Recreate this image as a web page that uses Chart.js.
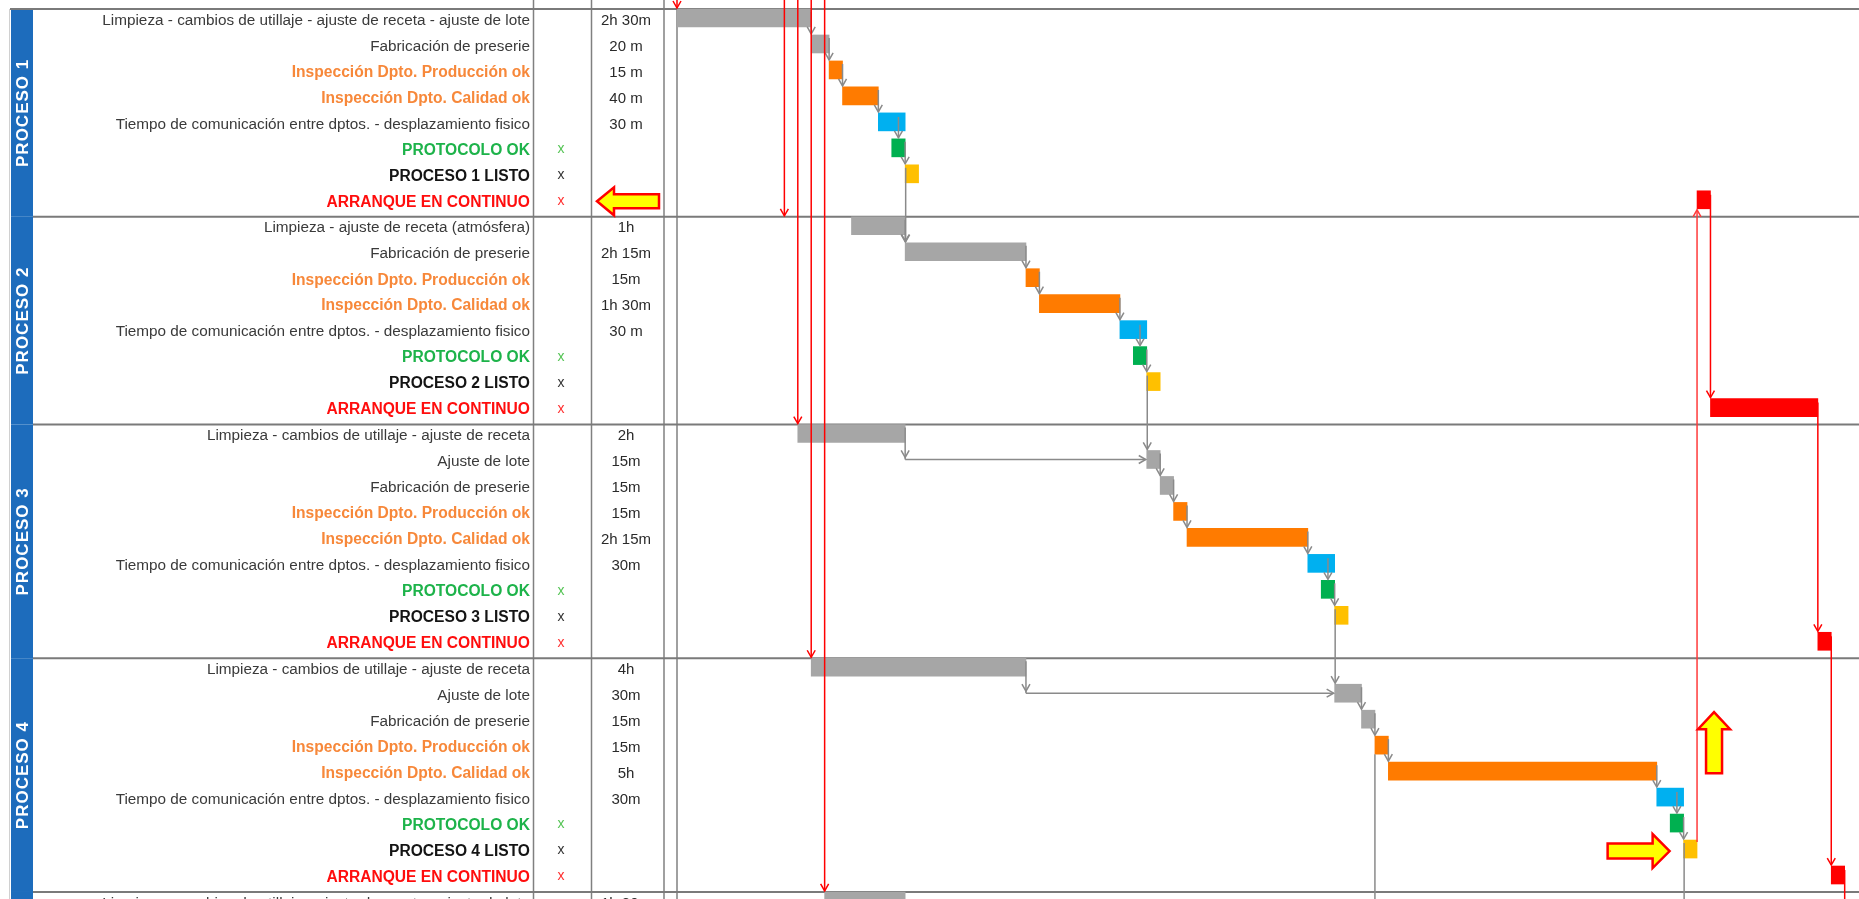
<!DOCTYPE html>
<html lang="es">
<head>
<meta charset="utf-8">
<title>Procesos - arranque en continuo</title>
<script src="https://cdn.jsdelivr.net/npm/chart.js@4.4.1/dist/chart.umd.min.js"></script>
<style>
  html, body { margin: 0; padding: 0; background: #fff; overflow: hidden; }
  #grafico { display: block; }
</style>
</head>
<body>
<canvas id="grafico" width="1859" height="899"></canvas>
<script>
// Procesos y cuántas filas ocupa cada uno
const procesos = ['PROCESO 1', 'PROCESO 2', 'PROCESO 3', 'PROCESO 4', 'PROCESO 5'];
const filasPorProceso = [8, 8, 9, 9, 1];

// Tareas (una por fila)
const tareas = [
  'Limpieza - cambios de utillaje - ajuste de receta - ajuste de lote',
  'Fabricación de preserie',
  'Inspección Dpto. Producción ok',
  'Inspección Dpto. Calidad ok',
  'Tiempo de comunicación entre dptos. - desplazamiento fisico',
  'PROTOCOLO OK',
  'PROCESO 1 LISTO',
  'ARRANQUE EN CONTINUO',
  'Limpieza - ajuste de receta (atmósfera)',
  'Fabricación de preserie',
  'Inspección Dpto. Producción ok',
  'Inspección Dpto. Calidad ok',
  'Tiempo de comunicación entre dptos. - desplazamiento fisico',
  'PROTOCOLO OK',
  'PROCESO 2 LISTO',
  'ARRANQUE EN CONTINUO',
  'Limpieza - cambios de utillaje - ajuste de receta',
  'Ajuste de lote',
  'Fabricación de preserie',
  'Inspección Dpto. Producción ok',
  'Inspección Dpto. Calidad ok',
  'Tiempo de comunicación entre dptos. - desplazamiento fisico',
  'PROTOCOLO OK',
  'PROCESO 3 LISTO',
  'ARRANQUE EN CONTINUO',
  'Limpieza - cambios de utillaje - ajuste de receta',
  'Ajuste de lote',
  'Fabricación de preserie',
  'Inspección Dpto. Producción ok',
  'Inspección Dpto. Calidad ok',
  'Tiempo de comunicación entre dptos. - desplazamiento fisico',
  'PROTOCOLO OK',
  'PROCESO 4 LISTO',
  'ARRANQUE EN CONTINUO',
  'Limpieza - cambios de utillaje - ajuste de receta - ajuste de lote'
];

// Tipo de tarea (define colores)
const tipos = [
  'gris', 'gris', 'naranja', 'naranja', 'azul', 'verde', 'amarillo', 'rojo',
  'gris', 'gris', 'naranja', 'naranja', 'azul', 'verde', 'amarillo', 'rojo',
  'gris', 'gris', 'gris', 'naranja', 'naranja', 'azul', 'verde', 'amarillo', 'rojo',
  'gris', 'gris', 'gris', 'naranja', 'naranja', 'azul', 'verde', 'amarillo', 'rojo',
  'gris'
];

// Columna de marcas
const marcas = [
  '', '', '', '', '', 'x', 'x', 'x',
  '', '', '', '', '', 'x', 'x', 'x',
  '', '', '', '', '', '', 'x', 'x', 'x',
  '', '', '', '', '', '', 'x', 'x', 'x',
  ''
];

// Columna de duraciones (texto)
const duraciones = [
  '2h 30m', '20 m', '15 m', '40 m', '30 m', '', '', '',
  '1h', '2h 15m', '15m', '1h 30m', '30 m', '', '', '',
  '2h', '15m', '15m', '15m', '2h 15m', '30m', '', '', '',
  '4h', '30m', '15m', '15m', '5h', '30m', '', '', '',
  '1h 30m'
];

// Inicio y duración de cada barra, en minutos
const inicio = [
  0, 150, 170, 185, 225, 240, 255, 1140,
  195, 255, 390, 405, 495, 510, 525, 1155,
  135, 525, 540, 555, 570, 705, 720, 735, 1275,
  150, 735, 765, 780, 795, 1095, 1110, 1125, 1290,
  165
];
const minutos = [
  150, 20, 15, 40, 30, 15, 15, 15,
  60, 135, 15, 90, 30, 15, 15, 120,
  120, 15, 15, 15, 135, 30, 15, 15, 15,
  240, 30, 15, 15, 300, 30, 15, 15, 15,
  90
];

// Llegada de cada proceso (flechas rojas desde arriba), en minutos
const llegadas = [0, 120, 135, 150, 165];

// Filas cuyo inicio sigue hacia abajo (fuera de la vista)
const continuaAbajo = [28];

const colores = {
  gris: '#a6a6a6',
  naranja: '#ff7b00',
  azul: '#00b0f0',
  verde: '#00b050',
  amarillo: '#ffc000',
  rojo: '#ff0000'
};
const coloresTexto = {
  gris: '#3a3a3a',
  azul: '#3a3a3a',
  naranja: '#f7883a',
  verde: '#1db34a',
  amarillo: '#141414',
  rojo: '#ff0d0d'
};
const coloresMarca = { verde: '#55c455', amarillo: '#333333', rojo: '#ff3030' };

const ALTO = 899;
const FILA = 25.97;       // alto de fila
const MARGEN_SUP = 9;     // línea superior de la tabla
const GROSOR = 18;        // grosor de barra
const yMin = -MARGEN_SUP / FILA;
const yMax = yMin + ALTO / FILA;

const FUENTE = '"Liberation Sans", Arial, sans-serif';

const datos = tareas.map((t, i) => ({
  x: [inicio[i], inicio[i] + minutos[i]],
  y: i + (GROSOR / 2) / FILA
}));

// primera fila de cada proceso
const inicioGrupo = [];
filasPorProceso.reduce((acc, n) => { inicioGrupo.push(acc); return acc + n; }, 0);

function linea(ctx, x0, y0, x1, y1) {
  ctx.beginPath();
  ctx.moveTo(x0, y0);
  ctx.lineTo(x1, y1);
  ctx.stroke();
}

function punta(ctx, x, y, dir) {
  ctx.beginPath();
  if (dir === 'abajo') { ctx.moveTo(x - 4, y - 7); ctx.lineTo(x, y); ctx.lineTo(x + 4, y - 7); }
  if (dir === 'arriba') { ctx.moveTo(x - 4, y + 7); ctx.lineTo(x, y); ctx.lineTo(x + 4, y + 7); }
  if (dir === 'derecha') { ctx.moveTo(x - 7, y - 4); ctx.lineTo(x, y); ctx.lineTo(x - 7, y + 4); }
  ctx.stroke();
}

function flechaBloque(ctx, puntos) {
  ctx.beginPath();
  puntos.forEach(([px, py], k) => k ? ctx.lineTo(px, py) : ctx.moveTo(px, py));
  ctx.closePath();
  ctx.fillStyle = '#ffff00';
  ctx.fill();
  ctx.strokeStyle = '#ff0000';
  ctx.lineWidth = 2.5;
  ctx.lineJoin = 'miter';
  ctx.stroke();
}

// Tabla de la izquierda, bandas y líneas de separación
const tabla = {
  id: 'tabla',
  beforeDatasetsDraw(chart) {
    const ctx = chart.ctx;
    const sy = chart.scales.y;
    const topFila = r => sy.getPixelForValue(r);
    ctx.save();

    // bandas azules con el nombre del proceso
    procesos.forEach((nombre, g) => {
      const y0 = topFila(inicioGrupo[g]);
      const y1 = topFila(inicioGrupo[g] + filasPorProceso[g]);
      ctx.fillStyle = '#1d6cbc';
      ctx.fillRect(11, y0, 22, y1 - y0);
      if (y1 <= ALTO) {
        ctx.save();
        ctx.translate(23, (y0 + y1) / 2);
        ctx.rotate(-Math.PI / 2);
        ctx.fillStyle = '#ffffff';
        ctx.font = 'bold 17px ' + FUENTE;
        ctx.letterSpacing = '1px';
        ctx.textAlign = 'center';
        ctx.textBaseline = 'middle';
        ctx.fillText(nombre, 0, 0);
        ctx.restore();
      }
    });
    ctx.strokeStyle = '#d0d0d0';
    ctx.lineWidth = 1;
    linea(ctx, 9.5, MARGEN_SUP, 9.5, ALTO);

    // columnas
    ctx.strokeStyle = '#808080';
    ctx.lineWidth = 1.5;
    [533.5, 591.5, 664].forEach(x => linea(ctx, x, 0, x, ALTO));
    linea(ctx, chart.chartArea.left, MARGEN_SUP, chart.chartArea.left, ALTO);

    // separación entre procesos
    ctx.strokeStyle = '#7a7a7a';
    ctx.lineWidth = 2;
    inicioGrupo.forEach((r, g) => {
      const y = topFila(r);
      linea(ctx, g === 0 ? 10 : 33, y, chart.width, y);
    });

    // textos de cada fila
    ctx.textBaseline = 'middle';
    tareas.forEach((t, i) => {
      const y = topFila(i) + 11.5;
      const tipo = tipos[i];
      const negrita = tipo !== 'gris' && tipo !== 'azul';
      ctx.font = (negrita ? 'bold 15.6px ' : '15.3px ') + FUENTE;
      ctx.fillStyle = coloresTexto[tipo];
      ctx.textAlign = 'right';
      ctx.fillText(t, 530, y);
      if (marcas[i]) {
        ctx.font = '14px ' + FUENTE;
        ctx.fillStyle = coloresMarca[tipo];
        ctx.textAlign = 'center';
        ctx.fillText(marcas[i], 561, y - 1);
      }
      if (duraciones[i]) {
        ctx.font = '15px ' + FUENTE;
        ctx.fillStyle = '#2a2a2a';
        ctx.textAlign = 'center';
        ctx.fillText(duraciones[i], 626, y);
      }
    });
    ctx.restore();
  },

  // Flechas de dependencia y anotaciones
  afterDatasetsDraw(chart) {
    const ctx = chart.ctx;
    const sx = chart.scales.x, sy = chart.scales.y;
    const X = t => sx.getPixelForValue(t);
    const topFila = r => sy.getPixelForValue(r);
    const fin = i => inicio[i] + minutos[i];
    ctx.save();
    ctx.lineCap = 'butt';

    // dependencias grises dentro de cada proceso
    ctx.strokeStyle = '#8a8a8a';
    ctx.lineWidth = 1.5;
    procesos.forEach((p, g) => {
      const s = inicioGrupo[g], n = filasPorProceso[g];
      for (let a = s; a < s + n - 1; a++) {
        const b = a + 1;
        if (tipos[a] === 'rojo' || tipos[b] === 'rojo') continue;
        if (tipos[b] === 'verde') {
          const x = X(inicio[b] + minutos[b] / 2);
          linea(ctx, x, topFila(a) + 4, x, topFila(b) - 1);
          punta(ctx, x, topFila(b) - 1, 'abajo');
        } else if (inicio[b] === fin(a)) {
          const x = X(fin(a));
          linea(ctx, x, topFila(a) + 3, x, topFila(b) - 1);
          punta(ctx, x, topFila(b) - 1, 'abajo');
        } else {
          const x0 = X(fin(a)), x1 = X(inicio[b]);
          const yc = topFila(b) + GROSOR / 2;
          linea(ctx, x0, topFila(a) + 3, x0, yc);
          punta(ctx, x0, yc - 2, 'abajo');
          linea(ctx, x0, yc, x1 - 1, yc);
          punta(ctx, x1 - 1, yc, 'derecha');
        }
      }
      // de "PROCESO n LISTO" al siguiente proceso
      const listo = s + n - 2;
      if (tipos[listo] !== 'amarillo') return;
      const x = X(inicio[listo]) + 0.5;
      const destino = inicioGrupo[g + 1] + 1;
      if (g + 1 < procesos.length && filasPorProceso[g + 1] > 1) {
        linea(ctx, x, topFila(listo) + 3, x, topFila(destino) - 1);
        punta(ctx, x, topFila(destino) - 1, 'abajo');
      } else {
        linea(ctx, x, topFila(listo) + 3, x, ALTO);
      }
    });
    continuaAbajo.forEach(i => {
      const x = X(inicio[i]);
      linea(ctx, x, topFila(i) + GROSOR, x, ALTO);
    });

    // llegadas de cada proceso
    ctx.strokeStyle = '#ff0000';
    ctx.lineWidth = 1.5;
    llegadas.forEach((t, g) => {
      const x = X(t);
      const y = topFila(inicioGrupo[g]) - 1;
      linea(ctx, x, 0, x, y);
      punta(ctx, x, y, 'abajo');
    });

    // cadena de arranques en continuo
    const rojos = tipos.map((t, i) => t === 'rojo' ? i : -1).filter(i => i >= 0);
    const ultimoListo = tipos.lastIndexOf('amarillo');
    ctx.strokeStyle = '#ff3b3b';
    {
      const x = X(inicio[rojos[0]]);
      const yFin = topFila(rojos[0]) + GROSOR + 1;
      linea(ctx, x, topFila(ultimoListo) + 2, x, yFin);
      punta(ctx, x, yFin, 'arriba');
    }
    ctx.strokeStyle = '#ff0000';
    rojos.forEach((r, k) => {
      const x = X(fin(r));
      if (k < rojos.length - 1) {
        const yFin = topFila(rojos[k + 1]) - 1;
        linea(ctx, x, topFila(r) + 4, x, yFin);
        punta(ctx, x, yFin, 'abajo');
      } else {
        linea(ctx, x, topFila(r) + 4, x, ALTO);
      }
    });

    // flechas amarillas de aviso
    {
      // hacia la columna de duración de "ARRANQUE EN CONTINUO" del proceso 1
      const cy = topFila(rojos[0]) + 10.5;
      const tip = 597, tail = 659;
      flechaBloque(ctx, [[tip, cy], [tip + 17, cy - 14], [tip + 17, cy - 7], [tail, cy - 7],
        [tail, cy + 7], [tip + 17, cy + 7], [tip + 17, cy + 14]]);
    }
    {
      // hacia arriba, junto a la línea roja
      const cx = X(inicio[rojos[0]]) + 17;
      const tip = topFila(27) + 2, base = tip + 61;
      flechaBloque(ctx, [[cx, tip], [cx + 16, tip + 17], [cx + 8, tip + 17], [cx + 8, base],
        [cx - 8, base], [cx - 8, tip + 17], [cx - 16, tip + 17]]);
    }
    {
      // hacia "PROCESO 4 LISTO"
      const cy = topFila(ultimoListo) + 11;
      const tip = X(inicio[ultimoListo]) - 14, tail = tip - 62;
      flechaBloque(ctx, [[tip, cy], [tip - 17, cy - 17], [tip - 17, cy - 7.5], [tail, cy - 7.5],
        [tail, cy + 7.5], [tip - 17, cy + 7.5], [tip - 17, cy + 17]]);
    }
    ctx.restore();
  }
};

const chart = new Chart(document.getElementById('grafico'), {
  type: 'bar',
  data: {
    datasets: [{
      data: datos,
      backgroundColor: tipos.map(t => colores[t]),
      borderWidth: 0,
      barThickness: GROSOR,
      borderSkipped: false
    }]
  },
  options: {
    responsive: false,
    devicePixelRatio: 1,
    animation: false,
    indexAxis: 'y',
    layout: { padding: { left: 677, right: 0, top: 0, bottom: 0 } },
    plugins: {
      legend: { display: false },
      tooltip: { enabled: false }
    },
    scales: {
      x: { type: 'linear', display: false, offset: false, min: 0, max: 1321 },
      y: { type: 'linear', display: false, offset: false, reverse: true, min: yMin, max: yMax }
    }
  },
  plugins: [tabla]
});
</script>
</body>
</html>
